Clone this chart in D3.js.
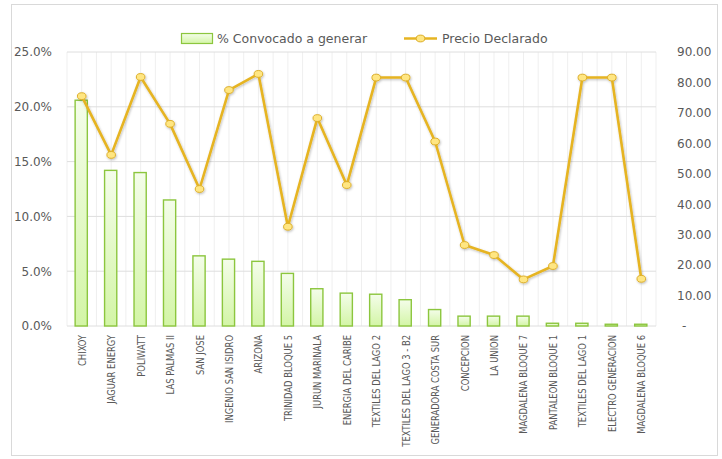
<!DOCTYPE html>
<html><head><meta charset="utf-8">
<script src="https://cdn.jsdelivr.net/npm/d3@7/dist/d3.min.js"></script>
<style>body{margin:0;background:#fff}svg{display:block}</style>
</head><body><svg id="c" width="722" height="459"></svg>
<script>
const categories = ["CHIXOY","JAGUAR  ENERGY","POLIWATT","LAS PALMAS II","SAN JOSE","INGENIO SAN ISIDRO","ARIZONA","TRINIDAD BLOQUE 5","JURUN MARINALA","ENERGIA  DEL CARIBE","TEXTILES DEL LAGO 2","TEXTILES DEL LAGO 3 - B2","GENERADORA COSTA SUR","CONCEPCION","LA UNION","MAGDALENA BLOQUE 7","PANTALEON BLOQUE 1","TEXTILES DEL LAGO 1","ELECTRO GENERACION","MAGDALENA BLOQUE 6"];
const convocado = [0.206,0.142,0.140,0.115,0.064,0.061,0.059,0.048,0.034,0.030,0.029,0.024,0.015,0.009,0.009,0.009,0.0025,0.0025,0.0016,0.0016];
const precio = [75.5,56.2,81.8,66.4,45.0,77.5,82.8,32.6,68.3,46.3,81.6,81.6,60.6,26.6,23.3,15.3,19.7,81.6,81.6,15.5];
const leftTicks = [0,0.05,0.10,0.15,0.20,0.25];
const rightTicks = [0,10,20,30,40,50,60,70,80,90];
const seriesNames = ["% Convocado a generar","Precio Declarado"];

const svg = d3.select("#c");
const m={l:67,r:656,t:52,b:326};
const txt="#595959";
const font="'DejaVu Sans', Verdana, sans-serif";

svg.append("rect").attr("x",11.5).attr("y",4.5).attr("width",706).attr("height",451).attr("fill","#fff").attr("stroke","#d9d9d9");

const defs=svg.append("defs");
const g1=defs.append("linearGradient").attr("id","bg").attr("x1",0).attr("y1",0).attr("x2",0).attr("y2",1);
g1.append("stop").attr("offset","0%").attr("stop-color","#f4fdea");
g1.append("stop").attr("offset","100%").attr("stop-color","#d3f5a6");
const f=defs.append("filter").attr("id","sh").attr("x","-20%").attr("y","-20%").attr("width","140%").attr("height","140%");
f.append("feDropShadow").attr("dx",0.8).attr("dy",1.2).attr("stdDeviation",0.8).attr("flood-color","#000").attr("flood-opacity",0.25);

const x=d3.scaleBand().domain(categories).range([m.l,m.r]).paddingInner(0).paddingOuter(0);
const yL=d3.scaleLinear().domain([0,0.25]).range([m.b,m.t]);
const yR=d3.scaleLinear().domain([0,90]).range([m.b,m.t]);

const vg=svg.append("g");
categories.forEach((c)=>{
  [x(c), x(c)+x.bandwidth()/2].forEach(px=>{
    vg.append("line").attr("x1",px).attr("x2",px).attr("y1",m.t).attr("y2",m.b).attr("stroke","#efefef").attr("stroke-width",1);
  });
});
vg.append("line").attr("x1",m.r).attr("x2",m.r).attr("y1",m.t).attr("y2",m.b).attr("stroke","#efefef");
svg.append("g").selectAll("line").data(leftTicks).join("line")
  .attr("x1",m.l).attr("x2",m.r).attr("y1",d=>yL(d)).attr("y2",d=>yL(d))
  .attr("stroke","#dedede").attr("stroke-width",1);

const ax=svg.append("g").attr("transform",`translate(${m.l},0)`)
  .call(d3.axisLeft(yL).tickValues(leftTicks).tickFormat(d3.format(".1%")).tickSize(0).tickPadding(15));
ax.select(".domain").remove();
ax.selectAll("text").attr("fill",txt).style("font-family",font).style("font-size","12px");

const ar=svg.append("g").attr("transform",`translate(${m.r},0)`)
  .call(d3.axisRight(yR).tickValues(rightTicks).tickFormat(d=>d===0?"-":d3.format(".2f")(d)).tickSize(0).tickPadding(21));
ar.select(".domain").remove();
ar.selectAll("text").attr("fill",txt).style("font-family",font).style("font-size","12px");
ar.selectAll(".tick").filter(d=>d===0).select("text").attr("dx",5);

const bw=12.2;
svg.append("g").selectAll("rect").data(categories).join("rect")
  .attr("x",(c)=>x(c)+x.bandwidth()/2-bw/2-0.5)
  .attr("y",(c,i)=>yL(convocado[i]))
  .attr("width",bw)
  .attr("height",(c,i)=>m.b-yL(convocado[i]))
  .attr("fill","url(#bg)").attr("stroke","#8cc63e").attr("stroke-width",1.4);

svg.append("g").selectAll("text").data(categories).join("text")
  .attr("transform",c=>`translate(${x(c)+x.bandwidth()/2+4},335) rotate(-90) scale(0.85,1)`)
  .attr("text-anchor","end").attr("fill",txt)
  .style("font-family","'DejaVu Sans Condensed','DejaVu Sans',sans-serif").style("font-size","11px")
  .text(c=>c);

const line=d3.line().x((d,i)=>x(categories[i])+x.bandwidth()/2).y(d=>yR(d));
const lg=svg.append("g").attr("filter","url(#sh)");
lg.append("path").datum(precio).attr("d",line).attr("fill","none").attr("stroke","#e6b422").attr("stroke-width",2.6).attr("stroke-linejoin","round");
lg.selectAll("ellipse").data(precio).join("ellipse")
  .attr("cx",(d,i)=>x(categories[i])+x.bandwidth()/2).attr("cy",d=>yR(d))
  .attr("rx",4.3).attr("ry",3.4).attr("fill","#ffe682").attr("stroke","#dcae2a").attr("stroke-width",1);

const leg=svg.append("g");
leg.append("rect").attr("x",181.5).attr("y",33.5).attr("width",31).attr("height",10).attr("fill","url(#bg)").attr("stroke","#8cc63e").attr("stroke-width",1.2);
leg.append("text").attr("x",217).attr("y",43).attr("fill",txt).style("font-family",font).style("font-size","12.5px").text(seriesNames[0]);
leg.append("line").attr("x1",404).attr("x2",437).attr("y1",38.5).attr("y2",38.5).attr("stroke","#e6b422").attr("stroke-width",2.4);
leg.append("ellipse").attr("cx",420.5).attr("cy",38.5).attr("rx",4.3).attr("ry",3.4).attr("fill","#ffe682").attr("stroke","#dcae2a");
leg.append("text").attr("x",442).attr("y",43).attr("fill",txt).style("font-family",font).style("font-size","12.5px").text(seriesNames[1]);
</script></body></html>
